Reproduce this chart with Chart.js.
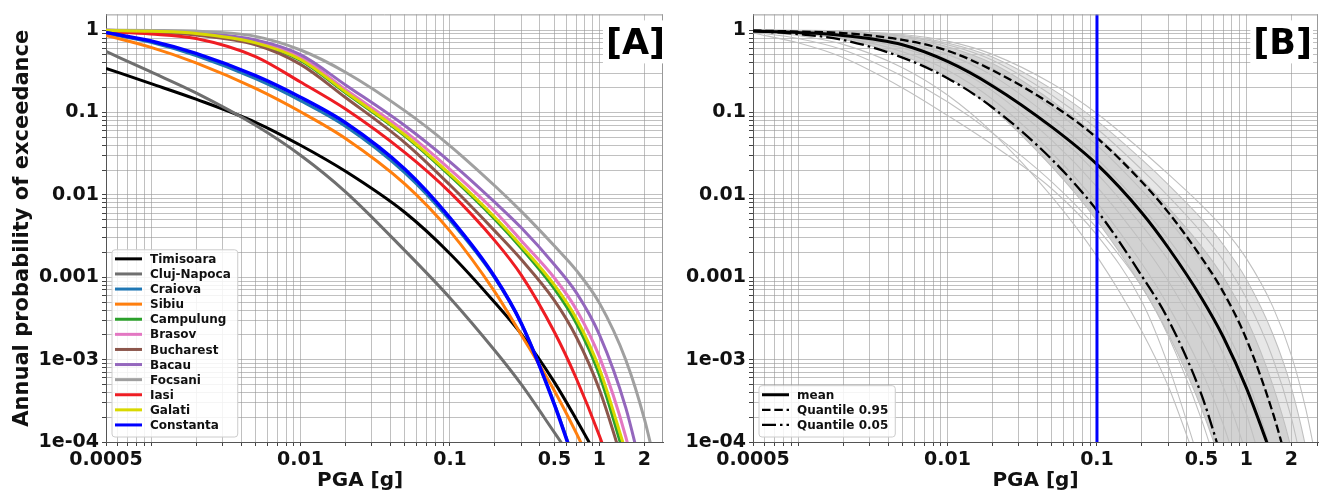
<!DOCTYPE html>
<html>
<head>
<meta charset="utf-8">
<title>Hazard curves</title>
<script src="https://cdn.jsdelivr.net/npm/chart.js@4.4.0/dist/chart.umd.min.js"></script>
<style>
  html, body { margin: 0; padding: 0; background: #fff; }
  #figure { position: relative; width: 1322px; height: 497px; }
  #chartA { position: absolute; left: 0; top: 0; }
  #chartB { position: absolute; left: 670px; top: 0; }
</style>
</head>
<body>
<div id="figure">
  <canvas id="chartA" width="670" height="497"></canvas>
  <canvas id="chartB" width="652" height="497"></canvas>
</div>
<script>
const FONT = '"DejaVu Sans", "Liberation Sans", sans-serif';
Chart.defaults.font.family = FONT;

const pga = [0.0005, 0.001, 0.002, 0.005, 0.01, 0.02, 0.05, 0.1, 0.2, 0.3, 0.5, 0.7, 1, 1.5, 2, 2.5, 3];

// tick labels as printed on the figure
const xTickValues = [0.0005, 0.01, 0.1, 0.5, 1, 2];
const xTickLabels = ['0.0005', '0.01', '0.1', '0.5', '1', '2'];
const yTickValues = [1, 0.1, 0.01, 0.001, 0.0001, 0.00001];
const yTickLabels = ['1', '0.1', '0.01', '0.001', '1e-03', '1e-04'];

// panel A - hazard curve per city
const cities = ['Timisoara', 'Cluj-Napoca', 'Craiova', 'Sibiu', 'Campulung', 'Brasov', 'Bucharest', 'Bacau', 'Focsani', 'Iasi', 'Galati', 'Constanta'];
const cityColors = ['#000000', '#6f6f6f', '#1f77b4', '#ff7f0e', '#2ca02c', '#e377c2', '#8c564b', '#9467bd', '#a0a0a0', '#ee1d23', '#d9d900', '#0000ff'];

const timisoara  = [0.343, 0.224, 0.145, 0.076, 0.04, 0.0193, 0.0061, 0.00193, 4.9e-4, 2.04e-4, 5.3e-5, 1.88e-5, 5.9e-6];
const clujNapoca = [0.55, 0.31, 0.173, 0.07, 0.0303, 0.0109, 0.0021, 5.6e-4, 1.28e-4, 5.0e-5, 1.3e-5, 5.3e-6];
const craiova    = [0.909, 0.71, 0.49, 0.257, 0.139, 0.068, 0.0185, 0.0049, 9.7e-4, 2.75e-4, 2.9e-5, 5.0e-6];
const sibiu      = [0.86, 0.616, 0.40, 0.196, 0.102, 0.0484, 0.0135, 0.00363, 6.6e-4, 1.99e-4, 4.16e-5, 1.28e-5, 3.25e-6];
const campulung  = [0.986, 0.965, 0.906, 0.69, 0.428, 0.173, 0.0518, 0.0171, 0.00504, 0.00225, 7.2e-4, 2.75e-4, 6.45e-5, 5.9e-6];
const brasov     = [0.992, 0.973, 0.921, 0.73, 0.471, 0.19, 0.0589, 0.0204, 0.00628, 0.00278, 9.8e-4, 4.07e-4, 1.08e-4, 1.15e-5, 1.28e-6];
const bucharest  = [0.973, 0.947, 0.872, 0.663, 0.383, 0.152, 0.0428, 0.01315, 0.00363, 0.00164, 5.2e-4, 1.88e-4, 4.3e-5, 4.3e-6];
const bacau      = [0.992, 0.973, 0.929, 0.76, 0.504, 0.216, 0.069, 0.0252, 0.0081, 0.00398, 0.00142, 6.5e-4, 2.0e-4, 2.6e-5, 3.2e-6];
const focsani    = [1.0, 0.989, 0.973, 0.839, 0.573, 0.308, 0.1045, 0.0394, 0.0128, 0.0063, 0.00239, 0.00121, 4.85e-4, 9.9e-5, 1.88e-5, 3.4e-6];
const iasi       = [0.947, 0.896, 0.792, 0.477, 0.234, 0.110, 0.0325, 0.0107, 0.00276, 0.00106, 2.15e-4, 5.9e-5, 1.18e-5, 1.43e-6];
const galati     = [0.986, 0.965, 0.909, 0.70, 0.44, 0.178, 0.0532, 0.0178, 0.00532, 0.0024, 8.0e-4, 3.16e-4, 7.7e-5, 7.6e-6];
const constanta  = [0.934, 0.738, 0.522, 0.28, 0.153, 0.075, 0.0204, 0.00525, 0.001, 2.75e-4, 2.83e-5, 4.8e-6];

const cityCurves = [timisoara, clujNapoca, craiova, sibiu, campulung, brasov, bucharest, bacau, focsani, iasi, galati, constanta];

// panel B - logic tree branches (grey) and their statistics
const branch01 = [1.0, 0.995, 0.976, 0.884, 0.734, 0.507, 0.2245, 0.0973, 0.0343, 0.0178, 0.0075, 0.00394, 0.00168, 4.4e-4, 1.12e-4, 2.47e-5, 4.8e-6];
const branch02 = [1.0, 0.989, 0.965, 0.86, 0.698, 0.471, 0.192, 0.079, 0.0267, 0.0133, 0.00513, 0.00248, 9.4e-4, 2.05e-4, 4.5e-5, 8.4e-6, 1.4e-6];
const branch03 = [1.0, 0.988, 0.957, 0.839, 0.664, 0.431, 0.162, 0.0634, 0.0201, 0.00966, 0.0035, 0.0016, 5.5e-4, 1.04e-4, 1.95e-5, 3.1e-6];
const branch04 = [0.995, 0.981, 0.947, 0.812, 0.627, 0.392, 0.138, 0.0514, 0.01534, 0.007, 0.00237, 0.001, 3.15e-4, 4.9e-5, 8.0e-6, 1.0e-6, 1.0e-7];
const branch05 = [0.992, 0.968, 0.921, 0.77, 0.573, 0.341, 0.1125, 0.0399, 0.01135, 0.005, 0.00154, 6.05e-4, 1.67e-4, 2.18e-5, 3.0e-6];
const branch06 = [0.986, 0.957, 0.899, 0.716, 0.507, 0.28, 0.0839, 0.0276, 0.00712, 0.00292, 7.85e-4, 2.74e-4, 6.2e-5, 6.5e-6, 7.4e-7];
const branch07 = [0.981, 0.945, 0.872, 0.661, 0.44, 0.223, 0.0605, 0.0181, 0.00422, 0.00161, 3.79e-4, 1.17e-4, 2.19e-5, 1.73e-6];
const branch08 = [0.973, 0.926, 0.839, 0.605, 0.384, 0.183, 0.0458, 0.01253, 0.00262, 9.0e-4, 1.76e-4, 4.68e-5, 7.2e-6];
const branch09 = [0.973, 0.915, 0.809, 0.547, 0.326, 0.1445, 0.0322, 0.00798, 0.00146, 4.49e-4, 7.4e-5, 1.63e-5, 2.07e-6];
const branch10 = [0.968, 0.9, 0.775, 0.49, 0.271, 0.1115, 0.0218, 0.00485, 7.6e-4, 2.04e-4, 2.55e-5, 4.4e-6, 4.4e-7, 1.8e-8, 1.1e-9];
const branch11 = [0.96, 0.859, 0.671, 0.35, 0.163, 0.057, 0.00946, 0.00179, 2.2e-4, 4.75e-5, 3.8e-6];
const branch12 = [0.947, 0.792, 0.578, 0.276, 0.135, 0.0562, 0.01428, 0.00394, 7.6e-4, 1.93e-4, 1.88e-5, 2.76e-6];
const branch13 = [0.921, 0.70, 0.464, 0.1985, 0.092, 0.0405, 0.01178, 0.00325, 5.04e-4, 8.5e-5, 4.8e-6];
const branchCurves = [branch01, branch02, branch03, branch04, branch05, branch06, branch07, branch08, branch09, branch10, branch11, branch12, branch13];
// shading for the bundle: [from branch, to branch, colour]
const bundleShades = [
  [3, 9, 'rgba(192,192,192,0.72)'],
  [1, 3, 'rgba(192,192,192,0.38)']
];

const meanCurve = [0.973, 0.934, 0.86, 0.663, 0.416, 0.21, 0.0663, 0.0234, 0.00603, 0.00228, 5.6e-4, 1.88e-4, 4.5e-5, 6.3e-6];
const q95Curve  = [0.986, 0.96, 0.921, 0.76, 0.562, 0.325, 0.1245, 0.049, 0.0143, 0.00613, 0.00173, 6.6e-4, 1.77e-4, 2.27e-5, 3.6e-6];
const q05Curve  = [0.973, 0.896, 0.76, 0.464, 0.261, 0.115, 0.0268, 0.00645, 0.00103, 3.06e-4, 3.75e-5, 5.5e-6];
const markedPga = 0.1;

const yMin = 1e-5, yMax = 1.55;

function curveData(values) {
  return values.map((v, i) => ({ x: pga[i], y: v }));
}

function pickLabel(values, labels) {
  return function (v) {
    const i = values.findIndex(t => Math.abs(t / v - 1) < 1e-6);
    return i < 0 ? '' : labels[i];
  };
}

// Chart.js adds 1.5x ticks and the max value; matplotlib only has 1..9 per decade
function wholeMantissaOnly(scale) {
  scale.ticks = scale.ticks.filter(t => {
    const m = t.value / Math.pow(10, Math.floor(Math.log10(t.value) + 1e-9));
    return Math.abs(m - Math.round(m)) < 1e-6;
  });
}

const gridColor = 'rgba(150,150,150,0.6)';
const tickFont = { family: FONT, size: 19, weight: 'bold' };

function makeScales(xMax, yWidth, yTitle, xTitle) {
  return {
    x: {
      type: 'logarithmic',
      min: 0.0005,
      max: xMax,
      afterBuildTicks: wholeMantissaOnly,
      afterFit: s => { s.height = 55; },
      border: { color: '#555', width: 1 },
      grid: { color: gridColor, tickColor: '#444', tickLength: 4 },
      ticks: { autoSkip: false, maxRotation: 0, minRotation: 0, padding: 3, color: '#111', font: tickFont, callback: pickLabel(xTickValues, xTickLabels) },
      title: { display: true, text: xTitle, color: '#111', font: { family: FONT, size: 20, weight: 'bold' }, padding: { top: 0, bottom: 4 } }
    },
    y: {
      type: 'logarithmic',
      min: yMin,
      max: yMax,
      afterBuildTicks: wholeMantissaOnly,
      afterFit: s => { s.width = yWidth; },
      border: { color: '#555', width: 1 },
      grid: { color: gridColor, tickColor: '#444', tickLength: 4 },
      ticks: { autoSkip: false, padding: 3, color: '#111', font: tickFont, callback: pickLabel(yTickValues, yTickLabels) },
      title: { display: !!yTitle, text: yTitle || '', color: '#111', font: { family: FONT, size: 21, weight: 'bold' }, padding: { top: 10, bottom: 0 } }
    }
  };
}

// top/right spines, panel tag and the in-axes legend
const decor = {
  id: 'decor',
  afterDraw(chart, args, opts) {
    const ctx = chart.ctx;
    const a = chart.chartArea;
    ctx.save();
    ctx.strokeStyle = '#999';
    ctx.lineWidth = 1;
    ctx.beginPath();
    ctx.moveTo(a.left, a.top + 0.5);
    ctx.lineTo(a.right, a.top + 0.5);
    ctx.moveTo(a.right - 0.5, a.top);
    ctx.lineTo(a.right - 0.5, a.bottom);
    ctx.stroke();

    ctx.font = 'bold 35px ' + FONT;
    ctx.textAlign = 'right';
    ctx.textBaseline = 'alphabetic';
    const tx = a.right + opts.tagDx, ty = a.top + 40;
    const tw = ctx.measureText(opts.tag).width;
    ctx.fillStyle = '#fff';
    ctx.fillRect(tx - tw - 3, ty - 34, tw + 4, 43);
    ctx.fillStyle = '#000';
    ctx.fillText(opts.tag, tx, ty);

    const items = chart.data.datasets.filter(d => d.legendLabel);
    ctx.font = 'bold 12px ' + FONT;
    const rowH = 15.1;
    const textW = Math.max(...items.map(d => ctx.measureText(d.legendLabel).width));
    const w = 38 + textW + 7, h = items.length * rowH + 6;
    const x0 = a.left + 6, y0 = a.bottom - 5 - h;
    ctx.fillStyle = 'rgba(255,255,255,0.85)';
    ctx.strokeStyle = '#cccccc';
    ctx.beginPath();
    if (ctx.roundRect) ctx.roundRect(x0, y0, w, h, 3); else ctx.rect(x0, y0, w, h);
    ctx.fill();
    ctx.stroke();
    items.forEach((d, i) => {
      const cy = y0 + 1.5 + rowH * (i + 0.5);
      ctx.strokeStyle = d.borderColor;
      ctx.lineWidth = Math.min(d.borderWidth, 3);
      ctx.setLineDash(d.borderDash || []);
      ctx.beginPath();
      ctx.moveTo(x0 + 3, cy);
      ctx.lineTo(x0 + 30, cy);
      ctx.stroke();
      ctx.setLineDash([]);
      ctx.fillStyle = '#111';
      ctx.textAlign = 'left';
      ctx.textBaseline = 'middle';
      ctx.fillText(d.legendLabel, x0 + 38, cy + 1);
    });
    ctx.restore();
  }
};

const lineDefaults = { pointRadius: 0, fill: false, clip: 0, cubicInterpolationMode: 'monotone' };

const datasetsA = cities.map((name, i) => Object.assign({}, lineDefaults, {
  label: name,
  legendLabel: name,
  data: curveData(cityCurves[i]),
  borderColor: cityColors[i],
  borderWidth: name === 'Constanta' ? 3.5 : 3,
  order: -i
}));

new Chart(document.getElementById('chartA'), {
  type: 'line',
  data: { datasets: datasetsA },
  options: {
    responsive: false,
    animation: false,
    events: [],
    layout: { padding: { top: 7, right: 7, bottom: 0, left: 0 } },
    plugins: { legend: { display: false }, tooltip: { enabled: false }, decor: { tag: '[A]', tagDx: 2 } },
    // trailing spaces push the label left like in the original
    scales: makeScales(2.66, 106, 'Annual probability of exceedance', 'PGA [g]       ')
  },
  plugins: [decor]
});

const datasetsB = branchCurves.map((curve, i) => {
  const shade = bundleShades.find(s => s[0] === i);
  return Object.assign({}, lineDefaults, {
    label: 'branch ' + (i + 1),
    data: curveData(curve),
    borderColor: '#c0c0c0',
    borderWidth: 1.1,
    order: 10,
    fill: shade ? shade[1] : false,
    backgroundColor: shade ? shade[2] : 'transparent'
  });
});

datasetsB.push(
  Object.assign({}, lineDefaults, { label: 'mean', legendLabel: 'mean', data: curveData(meanCurve), borderColor: '#000', borderWidth: 3, order: 1 }),
  Object.assign({}, lineDefaults, { label: 'Quantile 0.95', legendLabel: 'Quantile 0.95', data: curveData(q95Curve), borderColor: '#000', borderWidth: 2.3, borderDash: [8.5, 3.8], order: 2 }),
  Object.assign({}, lineDefaults, { label: 'Quantile 0.05', legendLabel: 'Quantile 0.05', data: curveData(q05Curve), borderColor: '#000', borderWidth: 2.3, borderDash: [14, 4, 2.5, 4], order: 3 }),
  Object.assign({}, lineDefaults, { label: 'PGA ' + markedPga, data: [{ x: markedPga, y: yMin }, { x: markedPga, y: yMax }], borderColor: '#0000ff', borderWidth: 3, order: 0, clip: false })
);

new Chart(document.getElementById('chartB'), {
  type: 'line',
  data: { datasets: datasetsB },
  options: {
    responsive: false,
    animation: false,
    events: [],
    layout: { padding: { top: 7, right: 4, bottom: 0, left: 0 } },
    plugins: { legend: { display: false }, tooltip: { enabled: false }, decor: { tag: '[B]', tagDx: -6 } },
    scales: makeScales(3.01, 83, null, 'PGA [g]')
  },
  plugins: [decor]
});
</script>
</body>
</html>
